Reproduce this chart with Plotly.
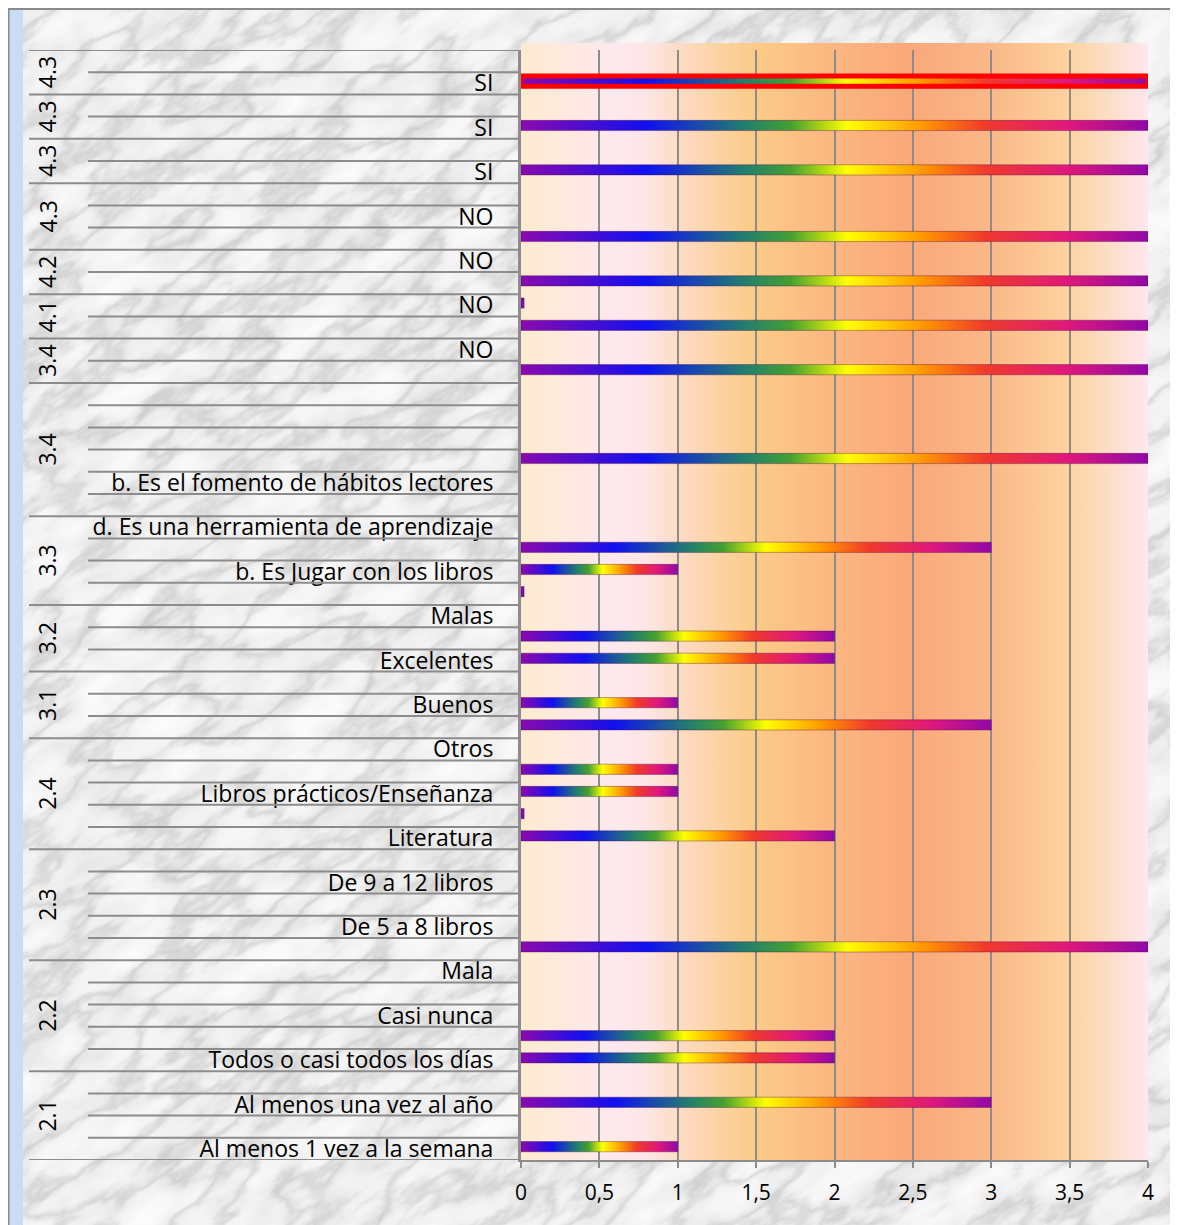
import base64
import plotly.graph_objects as go

# ---------------- data ----------------
# 50 categories, index 0 = bottom row (first category). Only every second label is shown.
visible_labels = [
    "Al menos 1 vez a la semana", "Al menos una vez al año", "Todos o casi todos los días",
    "Casi nunca", "Mala", "De 5 a 8 libros", "De 9 a 12 libros", "Literatura",
    "Libros prácticos/Enseñanza", "Otros", "Buenos", "Excelentes", "Malas",
    "b. Es Jugar con los libros", "d. Es una herramienta de aprendizaje",
    "b. Es el fomento de hábitos lectores", "", "", "NO", "NO", "NO", "NO", "SI", "SI", "SI",
]
# values per category (None = empty cell)
values = [
    1, None, 3, None, 2, 2, None, None, None, 4,        # 0-9
    None, None, None, None, 2, 0, 1, 1, None, 3,       # 10-19
    1, None, 2, 2, None, 0, 1, 3, None, None,          # 20-29
    None, 4, None, None, None, 4, None, 4, 0, 4,       # 30-39
    None, 4, None, None, 4, None, 4, None, 4, None,    # 40-49
]
groups = [("2.1", 4), ("2.2", 5), ("2.3", 5), ("2.4", 5), ("3.1", 3), ("3.2", 3),
          ("3.3", 4), ("3.4", 6), ("3.4", 2), ("4.1", 2), ("4.2", 2), ("4.3", 3),
          ("4.3", 2), ("4.3", 2), ("4.3", 2)]
selected_category = 48
x_ticks = [0, 0.5, 1, 1.5, 2, 2.5, 3, 3.5, 4]

# ---------------- geometry / style ----------------
W, H = 1178, 1225
PAGE = 8                       # page body offset of the figure
L, T = 521 - PAGE, 50 - PAGE
R, B = W - (1148 - PAGE), H - (1160 - PAGE)
PW, PH = W - L - R, H - T - B
N = len(values)


def px2x(px):   # screen px -> paper x
    return (px - PAGE - L) / PW


def py2y(py):   # figure px -> paper y
    return 1 - (py - T) / PH


FONT = "'Open Sans', Lato, sans-serif"
GRID = "#8c8c8c"
STUB = 0.02
HALF = 0.23
OFF = 0.1

rainbow = [[0.0, "#8a0aae"], [0.2, "#1010f0"], [0.36, "#23806a"], [0.43, "#45a030"],
           [0.52, "#ffff00"], [0.64, "#ff9800"], [0.74, "#f03a2a"], [0.87, "#e0187a"],
           [1.0, "#9008a8"]]

fig = go.Figure()

for i, v in enumerate(values):
    if v is None:
        continue
    x1 = v if v > 0 else STUB
    c = i + OFF
    sel = i == selected_category
    kw = dict(fillgradient=dict(type="horizontal", colorscale=rainbow)) if v > 0 else dict(fillcolor="#8a0aae")
    fig.add_trace(go.Scatter(
        x=[0, x1, x1, 0, 0], y=[c - HALF, c - HALF, c + HALF, c + HALF, c - HALF],
        mode="lines", fill="toself",
        line=dict(color="#ff0000" if sel else "rgba(70,0,70,0.35)", width=5 if sel else 1),
        hoverinfo="skip", showlegend=False, **kw,
    ))

# ---------------- backgrounds (svg images) ----------------
grad_stops = [(0.0, "#fdebd0"), (0.09, "#fde9e2"), (0.15, "#fde8ef"), (0.2, "#fde6e6"),
              (0.25, "#fddcc6"), (0.37, "#fccb88"), (0.5, "#fbb680"), (0.62, "#faa87a"),
              (0.75, "#fbb888"), (0.87, "#fdd29e"), (1.0, "#fee8ee")]
stops_svg = "".join(f'<stop offset="{o}" stop-color="{c}"/>' for o, c in grad_stops)
grad_svg = (f'<svg xmlns="http://www.w3.org/2000/svg" width="{PW}" height="{PH}">'
            f'<defs><linearGradient id="g" x1="0" y1="0" x2="1" y2="0">{stops_svg}</linearGradient></defs>'
            f'<rect width="{PW}" height="{PH}" fill="url(#g)"/></svg>')

tbl = ("0.96 0.95 0.95 0.94 0.93 0.92 0.92 0.91 0.90 0.87 0.79 0.70 0.78 0.88 0.92 "
       "0.93 0.94 0.95 0.96 0.97 0.97 0.97 0.98 0.98 0.98")
cloud = "0.80 0.86 0.90 0.94 0.97 1.0 1.0 1.0 1.0"
marble_svg = (
    f'<svg xmlns="http://www.w3.org/2000/svg" width="{W}" height="{H}">'
    '<defs><filter id="f" x="0" y="0" width="100%" height="100%">'
    '<feTurbulence type="fractalNoise" baseFrequency="0.009 0.022" numOctaves="5" seed="11" result="n1"/>'
    '<feColorMatrix in="n1" type="matrix" values="1 0 0 0 0 1 0 0 0 0 1 0 0 0 0 0 0 0 0 1" result="g1"/>'
    f'<feComponentTransfer in="g1" result="v"><feFuncR type="table" tableValues="{tbl}"/>'
    f'<feFuncG type="table" tableValues="{tbl}"/><feFuncB type="table" tableValues="{tbl}"/>'
    '</feComponentTransfer>'
    '<feTurbulence type="fractalNoise" baseFrequency="0.02 0.035" numOctaves="3" seed="4" result="n2"/>'
    '<feColorMatrix in="n2" type="matrix" values="0 1 0 0 0 0 1 0 0 0 0 1 0 0 0 0 0 0 0 1" result="g2"/>'
    f'<feComponentTransfer in="g2" result="c"><feFuncR type="table" tableValues="{cloud}"/>'
    f'<feFuncG type="table" tableValues="{cloud}"/><feFuncB type="table" tableValues="{cloud}"/>'
    '</feComponentTransfer>'
    '<feBlend in="v" in2="c" mode="multiply"/>'
    '</filter></defs>'
    f'<rect width="{W}" height="{H}" fill="#e6e6e6"/>'
    f'<g transform="rotate(-35 {W/2} {H/2})"><rect x="-600" y="-600" width="{W+1200}" height="{H+1200}" filter="url(#f)"/></g>'
    '</svg>')


def uri(svg):
    return "data:image/svg+xml;base64," + base64.b64encode(svg.encode("utf-8")).decode()


images = [
    dict(source=uri(marble_svg), xref="paper", yref="paper", x=-L / PW, y=py2y(0),
         sizex=W / PW, sizey=H / PH, xanchor="left", yanchor="top", sizing="stretch", layer="below"),
    dict(source=uri(grad_svg), xref="paper", yref="paper", x=0, y=py2y(T - 7), sizex=1, sizey=(PH + 7) / PH,
         xanchor="left", yanchor="top", sizing="stretch", layer="below"),
]

# ---------------- shapes: category separators, frame ----------------
shapes = []
group_bounds = {0}
acc = 0
for _, n in groups:
    acc += n
    group_bounds.add(acc)
for b in range(N + 1):
    x0 = px2x(29) if b in group_bounds else px2x(88)
    shapes.append(dict(type="line", xref="paper", yref="y", x0=x0, x1=px2x(518),
                       y0=b - 0.5, y1=b - 0.5, line=dict(color=GRID, width=2), layer="above"))

shapes.append(dict(type="rect", xref="paper", yref="paper", x0=px2x(9), x1=px2x(23),
                   y0=py2y(H), y1=py2y(1), fillcolor="#c9dcf6", line=dict(width=0), layer="above"))
shapes.append(dict(type="rect", xref="paper", yref="paper", x0=-L / PW + 0.0008, x1=px2x(W + 20),
                   y0=py2y(H + 20), y1=py2y(1), line=dict(color="#8a8a8a", width=2), layer="above"))

# ---------------- group labels ----------------
annotations = []
start = 0
for name, n in groups:
    mid = start + (n - 1) / 2
    annotations.append(dict(text=name, xref="paper", yref="y", x=px2x(47), y=mid,
                            xanchor="center", yanchor="middle",
                            textangle=-90, showarrow=False,
                            font=dict(family=FONT, size=23, color="#000")))
    start += n

fig.update_layout(
    width=W, height=H, autosize=False,
    margin=dict(l=L, r=R, t=T, b=B, pad=0),
    paper_bgcolor="#e4e4e4", plot_bgcolor="rgba(0,0,0,0)",
    separators=",.",
    images=images, shapes=shapes, annotations=annotations,
    showlegend=False,
    xaxis=dict(range=[0, 4], tickvals=x_ticks, showgrid=True, gridcolor=GRID, gridwidth=2,
               zeroline=False, showline=True, linecolor=GRID, linewidth=2, mirror=False,
               ticks="outside", ticklen=6, tickcolor=GRID, tickwidth=2, ticklabelstandoff=7,
               tickfont=dict(family=FONT, size=21, color="#000"), fixedrange=True),
    yaxis=dict(range=[-0.5, N - 0.5], tickvals=list(range(0, N, 2)), ticktext=visible_labels,
               showgrid=False, zeroline=False, showline=True, linecolor=GRID, linewidth=3,
               ticks="", ticklabelstandoff=20,
               tickfont=dict(family=FONT, size=23, color="#000"), fixedrange=True),
)

fig.write_html("out.html")
